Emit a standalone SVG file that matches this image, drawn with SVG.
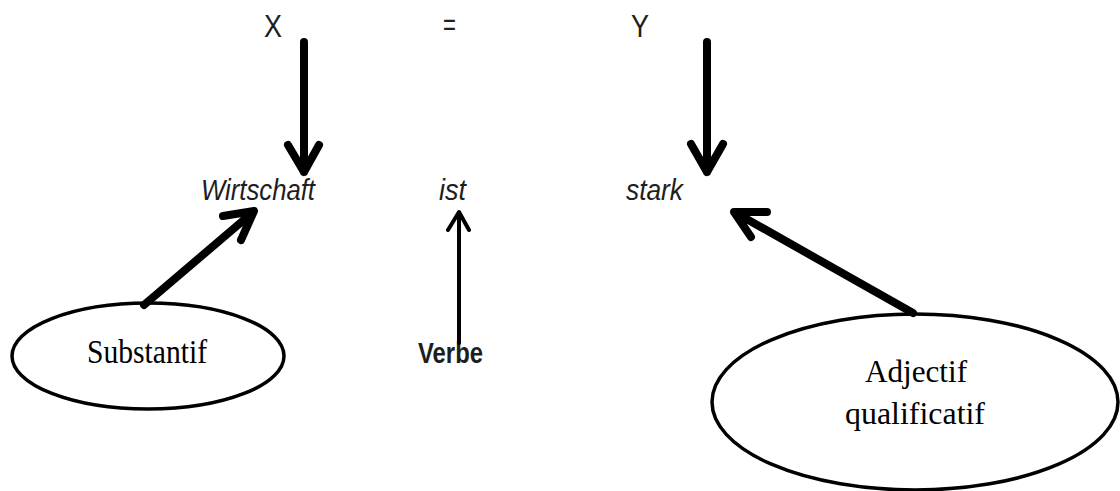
<svg xmlns="http://www.w3.org/2000/svg" width="1120" height="491" viewBox="0 0 1120 491">
<style>
.t{font-family:"Liberation Sans",Arial,sans-serif;fill:#1e1e1e}
.it{font-family:"Liberation Sans",Arial,sans-serif;font-style:italic;fill:#1e1e1e}
.sr{font-family:"Liberation Serif","Times New Roman",serif;fill:#000}
.ell{fill:#fff;stroke:#000;stroke-width:3.5}
.thick{fill:none;stroke:#000;stroke-width:8;stroke-linecap:round;stroke-linejoin:round}
.thin{fill:none;stroke:#000;stroke-width:4;stroke-linecap:round;stroke-linejoin:round}
</style>
<g id="top-labels">
<text class="t" x="264" y="37" font-size="31" textLength="18" lengthAdjust="spacingAndGlyphs">X</text>
<text class="t" x="443" y="35" font-size="31" textLength="13" lengthAdjust="spacingAndGlyphs">=</text>
<text class="t" x="631" y="37" font-size="31" textLength="18" lengthAdjust="spacingAndGlyphs">Y</text>
</g>
<g id="node-wirtschaft"><text class="it" x="201" y="200" font-size="30" textLength="114" lengthAdjust="spacingAndGlyphs">Wirtschaft</text></g>
<g id="node-ist"><text class="it" x="439" y="200" font-size="30" textLength="27" lengthAdjust="spacingAndGlyphs">ist</text></g>
<g id="node-stark"><text class="it" x="626" y="200" font-size="30" textLength="57" lengthAdjust="spacingAndGlyphs">stark</text></g>
<g id="node-substantif">
<ellipse class="ell" cx="148" cy="356" rx="136" ry="53"/>
<text class="sr" x="87" y="363" font-size="33" textLength="120" lengthAdjust="spacingAndGlyphs">Substantif</text>
</g>
<g id="node-verbe"><text class="t" x="418" y="363" font-size="29" font-weight="bold" textLength="65" lengthAdjust="spacingAndGlyphs">Verbe</text></g>
<g id="node-adjectif">
<ellipse class="ell" cx="915" cy="402" rx="203" ry="88"/>
<text class="sr" x="865" y="382" font-size="32" textLength="102" lengthAdjust="spacingAndGlyphs">Adjectif</text>
<text class="sr" x="845" y="424" font-size="32" textLength="140" lengthAdjust="spacingAndGlyphs">qualificatif</text>
</g>
<g id="connectors">
<path class="thick" d="M304 42 V172 M288 145 L304 172 L319 145"/>
<path class="thick" d="M707 42 V172 M691 144 L707 172 L723 144"/>
<path class="thick" d="M144 305 L252 213 M223 216 L254 211 L241 240"/>
<path class="thin" d="M459 343 V213 M448 230 L459 212 L469 230"/>
<path class="thick" d="M913 313 L736 213 M767 212 L734 212 L751 237"/>
</g>
</svg>
